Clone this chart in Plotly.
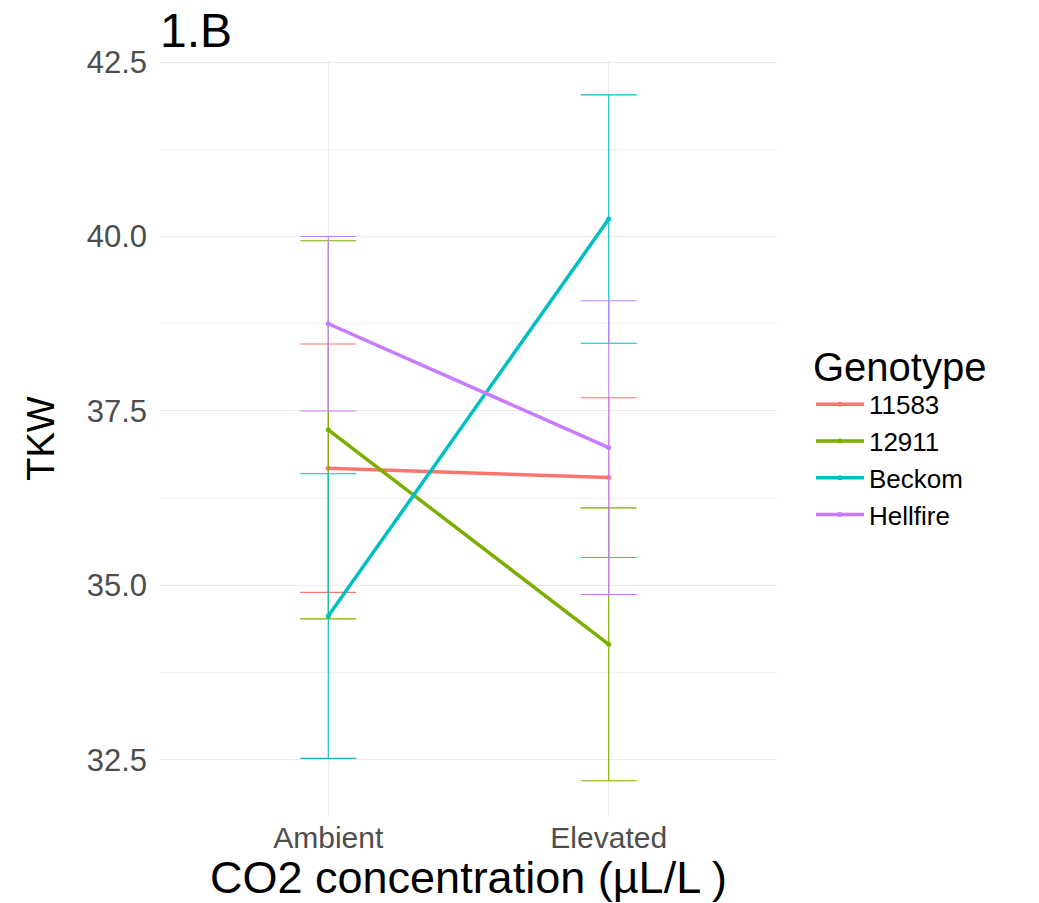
import plotly.graph_objects as go

conditions = ["Ambient", "Elevated"]
genotypes = ["11583", "12911", "Beckom", "Hellfire"]
colors = ["#F8766D", "#7CAE00", "#00BFC4", "#C77CFF"]
tkw_mean = {
    "11583": [36.68, 36.545],
    "12911": [37.23, 34.155],
    "Beckom": [34.56, 40.25],
    "Hellfire": [38.75, 36.975],
}
tkw_se = {
    "11583": [1.78, 1.145],
    "12911": [2.71, 1.955],
    "Beckom": [2.04, 1.78],
    "Hellfire": [1.25, 2.105],
}
y_ticks = [32.5, 35.0, 37.5, 40.0, 42.5]

FONT = "Liberation Sans, Arial, sans-serif"

fig = go.Figure()
for g, c in zip(genotypes, colors):
    fig.add_trace(go.Scatter(
        x=conditions, y=tkw_mean[g], name=g, mode="lines+markers",
        line=dict(color=c, width=3.5),
        marker=dict(color=c, size=5),
        error_y=dict(type="data", array=tkw_se[g], visible=True,
                     color=c, thickness=1.1, width=28),
    ))

fig.update_layout(
    width=1039, height=903,
    margin=dict(l=160, r=262, t=60, b=86),
    paper_bgcolor="white", plot_bgcolor="white",
    font=dict(family=FONT),
    title=dict(text="1.B", x=0, xref="paper", xanchor="left",
               y=0.967, yref="container", yanchor="middle",
               font=dict(size=48, color="black", family=FONT)),
    legend=dict(
        title=dict(text="Genotype", font=dict(size=40, color="black")),
        font=dict(size=26, color="black"),
        x=1.055, xanchor="left", y=0.645, yanchor="top",
        tracegroupgap=0, itemwidth=48,
    ),
)
fig.update_xaxes(
    type="category", range=[-0.6, 1.6],
    showgrid=True, gridcolor="#EBEBEB", gridwidth=1.2,
    zeroline=False, showline=False, ticks="",
    tickfont=dict(size=30, color="#4D4D4D"), ticklabelstandoff=0,
    title=dict(text="CO2 concentration (µL/L )", font=dict(size=45, color="black"), standoff=2),
)
fig.update_yaxes(
    range=[31.68, 42.53],
    tickvals=y_ticks, ticktext=[f"{v:.1f}" for v in y_ticks],
    showgrid=True, gridcolor="#EBEBEB", gridwidth=1.2,
    minor=dict(tick0=32.5, dtick=1.25, showgrid=True, gridcolor="#F2F2F2", gridwidth=1),
    zeroline=False, showline=False, ticks="",
    tickfont=dict(size=31, color="#4D4D4D"), ticklabelstandoff=12,
    title=dict(text="TKW", font=dict(size=38, color="black"), standoff=20),
)

fig.write_html("out.html")
